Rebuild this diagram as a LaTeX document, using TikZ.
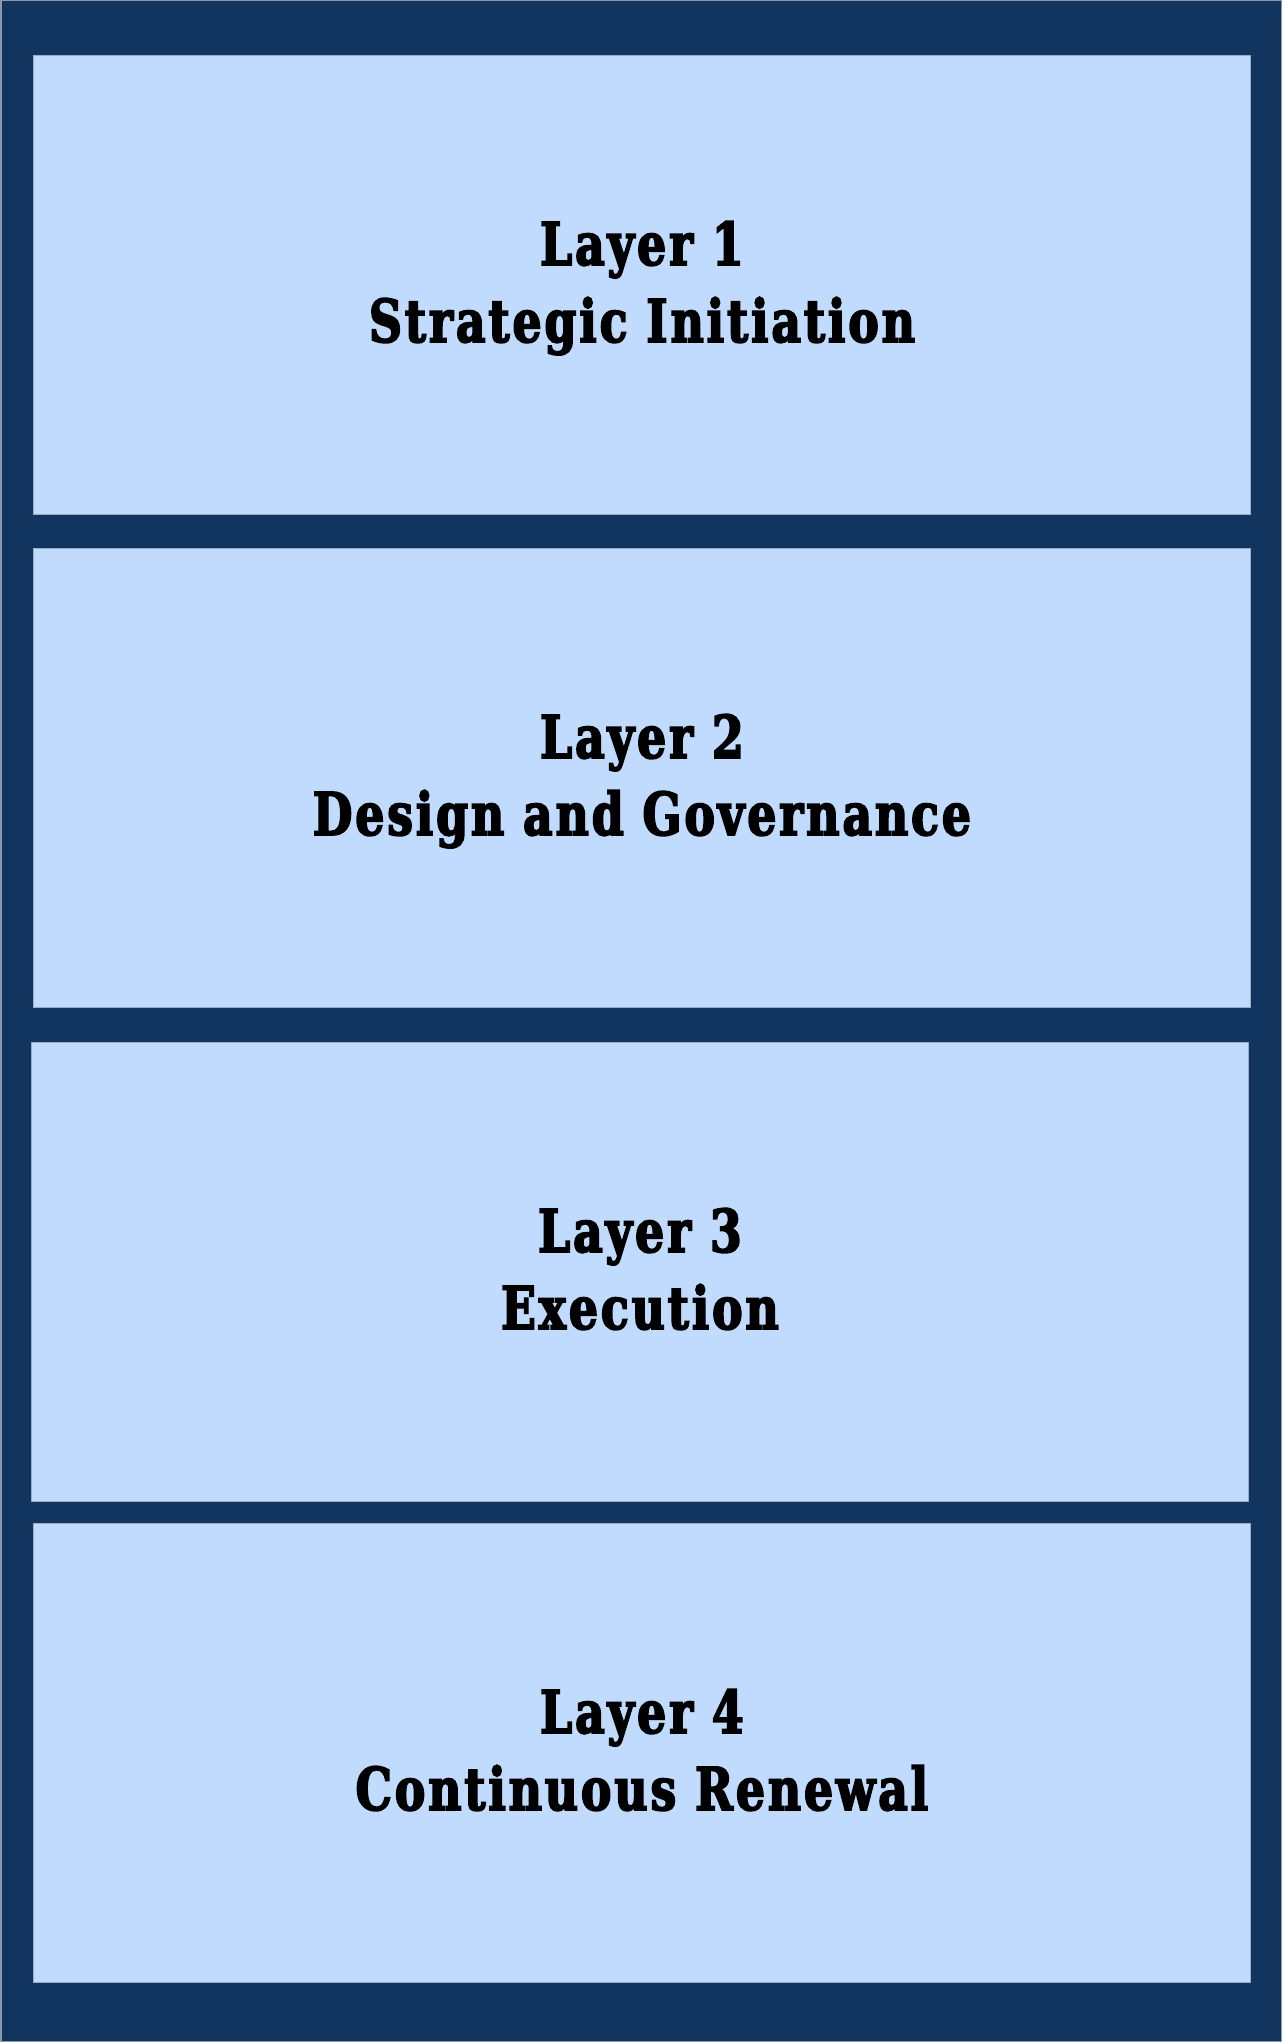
\documentclass[tikz,border=0pt]{standalone}
\usepackage{fontspec}
\newfontfamily\labfont[FakeBold=3,FakeStretch=0.86,LetterSpace=5]{DejaVu Serif Condensed}
\definecolor{navy}{HTML}{11355F}
\definecolor{pale}{HTML}{C0DBFD}
\definecolor{rim}{HTML}{8A98AA}
\tikzset{
  layerbox/.style={draw=rim!70!pale, line width=0.8pt, fill=pale, minimum width=1217pt, minimum height=459pt, inner sep=0pt, anchor=north west},
  layertext/.style={font=\labfont\bfseries\fontsize{59}{70}\selectfont, text=black, anchor=base, inner sep=0pt}
}
\begin{document}
\begin{tikzpicture}[x=1pt,y=-1pt]
\useasboundingbox (0,0) rectangle (1282,2042);
\fill[rim] (0,0) rectangle (1282,2042);
\fill[navy] (1.5,1.5) rectangle (1280.5,2040.5);
\node[layerbox] (b1) at (33,55) {};
\node[layerbox] (b2) at (33,548) {};
\node[layerbox] (b3) at (31,1042) {};
\node[layerbox] (b4) at (33,1523) {};
\node[layertext] (t1a) at ([yshift=-210pt]b1.north) {Layer 1};
\node[layertext] (t1b) at ([yshift=-287pt]b1.north) {Strategic Initiation};
\node[layertext] (t2a) at ([yshift=-210pt]b2.north) {Layer 2};
\node[layertext] (t2b) at ([yshift=-287pt]b2.north) {Design and Governance};
\node[layertext] (t3a) at ([yshift=-210pt]b3.north) {Layer 3};
\node[layertext] (t3b) at ([yshift=-287pt]b3.north) {Execution};
\node[layertext] (t4a) at ([yshift=-210pt]b4.north) {Layer 4};
\node[layertext] (t4b) at ([yshift=-287pt]b4.north) {Continuous Renewal};
\end{tikzpicture}
\end{document}
